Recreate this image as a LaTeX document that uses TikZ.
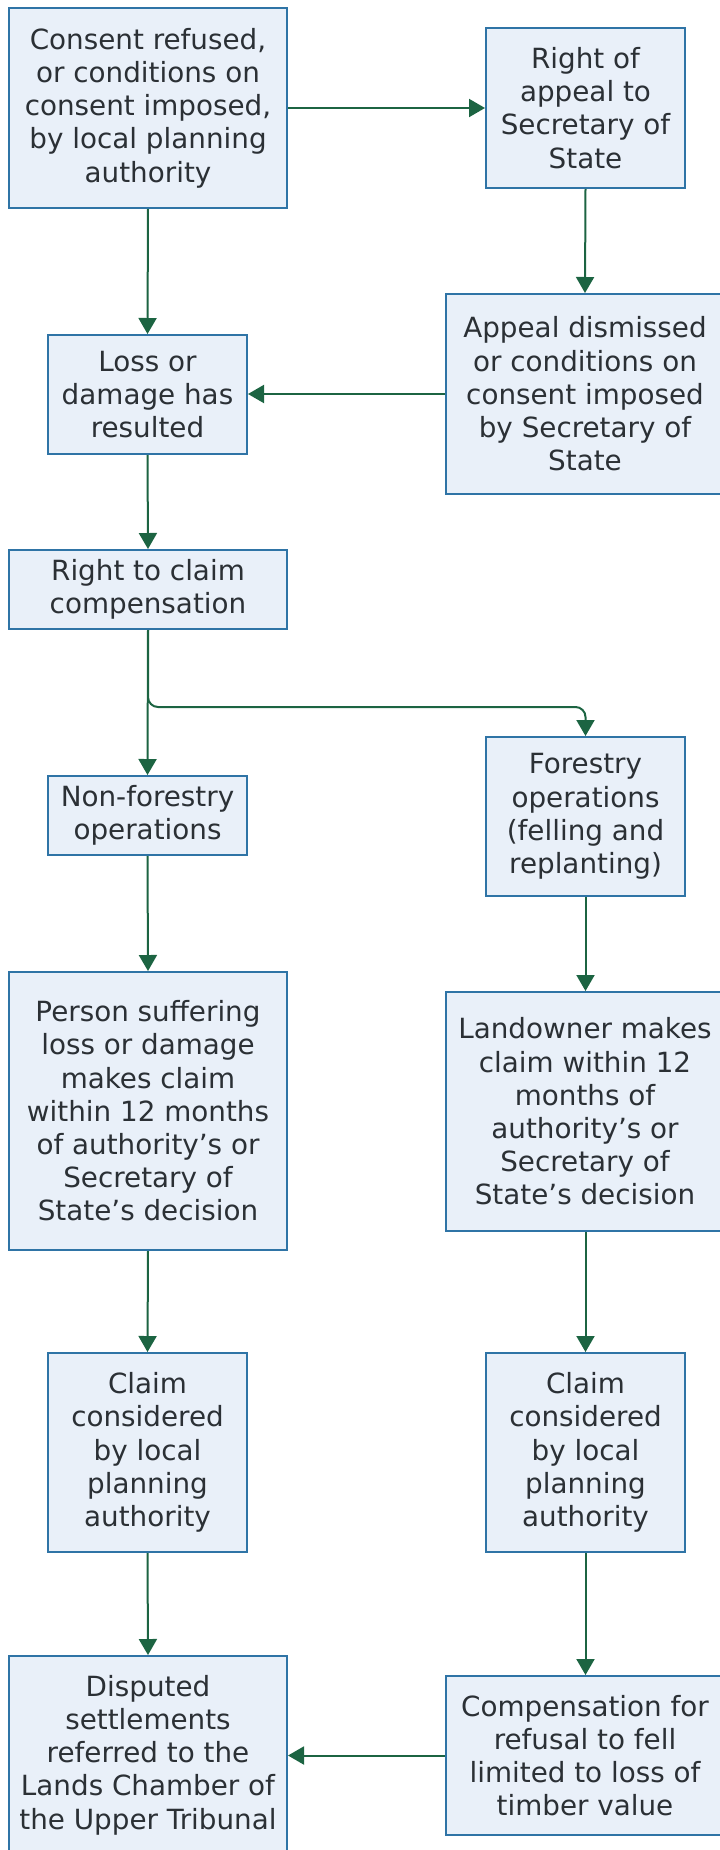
\documentclass[tikz,border=0pt]{standalone}
\usepackage{fontspec}
\setmainfont{DejaVu Sans}
\usetikzlibrary{arrows.meta}
\definecolor{boxfill}{HTML}{E9F0F9}
\definecolor{boxline}{HTML}{2F74A6}
\definecolor{boxtext}{HTML}{2B3035}
\definecolor{flow}{HTML}{1C6442}
\begin{document}
\begin{tikzpicture}[x=1pt,y=-1pt,
  box/.style={draw=boxline, fill=boxfill, line width=2pt, text=boxtext,
    align=center, inner sep=0pt, font=\fontsize{27.8}{33.2}\selectfont},
  wide/.style={box, minimum width=278pt},
  narrow/.style={box, minimum width=199pt},
  arr/.style={draw=flow, line width=2pt,
    -{Triangle[length=16pt,width=18pt]}, color=flow}]
\useasboundingbox (0,0) rectangle (720,1850);

% left column
\node[wide, minimum height=200pt] (consent) at (148,108)
  {Consent refused,\\or conditions on\\consent imposed,\\by local planning\\authority};
\node[narrow, minimum height=119pt] (loss) at (147.5,394.5)
  {Loss or\\damage has\\resulted};
\node[wide, minimum height=79pt] (claimright) at (148,589.5)
  {Right to claim\\compensation};
\node[narrow, minimum height=79pt] (nonforest) at (147.5,815.5)
  {Non-forestry\\operations};
\node[wide, minimum height=278pt] (person) at (148,1111)
  {Person suffering\\loss or damage\\makes claim\\within 12 months\\of authority’s or\\Secretary of\\State’s decision};
\node[narrow, minimum height=199pt] (claimL) at (147.5,1452.5)
  {Claim\\considered\\by local\\planning\\authority};
\node[wide, minimum height=198pt] (disputed) at (148,1755)
  {Disputed\\settlements\\referred to the\\Lands Chamber of\\the Upper Tribunal};

% right column
\node[narrow, minimum height=160pt] (appeal) at (585.5,108)
  {Right of\\appeal to\\Secretary of\\State};
\node[wide, minimum height=200pt] (dismissed) at (585,394)
  {Appeal dismissed\\or conditions on\\consent imposed\\by Secretary of\\State};
\node[narrow, minimum height=159pt] (forest) at (585.5,816.5)
  {Forestry\\operations\\(felling and\\replanting)};
\node[wide, minimum height=239pt] (landowner) at (585,1111.5)
  {Landowner makes\\claim within 12\\months of\\authority’s or\\Secretary of\\State’s decision};
\node[narrow, minimum height=199pt] (claimR) at (585.5,1452.5)
  {Claim\\considered\\by local\\planning\\authority};
\node[wide, minimum height=159pt] (comp) at (585,1755.5)
  {Compensation for\\refusal to fell\\limited to loss of\\timber value};

% connectors
\draw[arr] (consent.east |- appeal.west) -- (appeal.west);
\draw[arr] (appeal.south) -- (dismissed.north);
\draw[arr] (consent.south) -- (loss.north);
\draw[arr] (dismissed.west) -- (loss.east |- dismissed.west);
\draw[arr] (loss.south) -- (claimright.north);
\draw[arr] (claimright.south) -- (nonforest.north);
\coordinate (fork) at (148,707);
\draw[arr, rounded corners=10pt] (claimright.south) |- (forest.north |- fork) -- (forest.north);
\draw[arr] (nonforest.south) -- (person.north);
\draw[arr] (forest.south) -- (forest.south |- landowner.north);
\draw[arr] (person.south) -- (claimL.north);
\draw[arr] (landowner.south -| claimR.north) -- (claimR.north);
\draw[arr] (claimL.south) -- (disputed.north);
\draw[arr] (claimR.south) -- (claimR.south |- comp.north);
\draw[arr] (comp.west) -- (disputed.east |- comp.west);
\end{tikzpicture}
\end{document}
